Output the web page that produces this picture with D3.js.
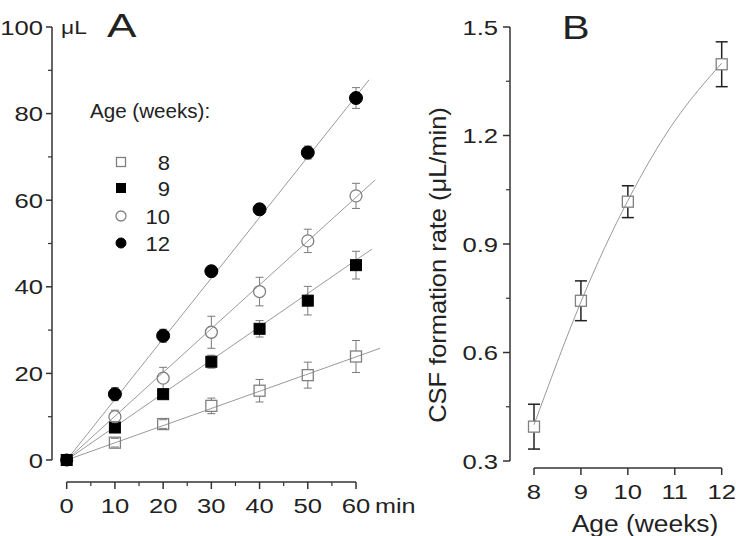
<!DOCTYPE html>
<html><head><meta charset="utf-8">
<script src="https://cdn.jsdelivr.net/npm/d3@7"></script>
<style>body{margin:0;background:#fff} text{font-family:"Liberation Sans",Arial,sans-serif;fill:#222}</style>
</head><body><svg id="c" width="736" height="536"></svg>
<script>
// ---- Panel A data ----
const times = [0,10,20,30,40,50,60];
const ages = ["8","9","10","12"];
const vol8  = [0,4.0,8.3,12.5,16.0,19.6,23.9];
const err8  = [0.5,1.0,1.0,1.8,2.6,3.0,3.7];
const vol9  = [0,7.5,15.2,22.7,30.3,36.8,45.0];
const err9  = [0.5,1.0,1.0,1.5,1.9,3.3,3.2];
const vol10 = [0,10.0,18.9,29.5,38.9,50.6,61.0];
const err10 = [0.5,1.5,2.5,3.7,3.3,2.7,2.9];
const vol12 = [0,15.2,28.7,43.6,57.9,71.0,83.6];
const err12 = [0.5,1.5,1.5,1.0,1.0,1.5,2.4];
const fitEndTime = [65,63.3,64,62.7];
const fitEndVol  = [25.8,48.7,64.7,87.8];
const yTicksA = [0,20,40,60,80,100];
const yMinorA = [10,30,50,70,90];
const xTicksA = [0,10,20,30,40,50,60];
const xMinorA = [5,15,25,35,45,55];

// ---- Panel B data ----
const weeksB = [8,9,10,12];
const rateB  = [0.395,0.743,1.017,1.397];
const errB   = [0.062,0.055,0.044,0.062];
const curveWeeks = [8,9,10,11,12];
const curveRate  = [0.40,0.74,1.02,1.24,1.40];
const yTicksB = [0.3,0.6,0.9,1.2,1.5];
const yMinorB = [0.45,0.75,1.05,1.35];
const xTicksB = [8,9,10,11,12];

const svg = d3.select("#c");
const axisCol = "#333", lineCol = "#9a9a9a", openCol = "#808080";

// text helper: wide-looking font via horizontal scaling
function txt(g, x, y, s, size, anchor, sx, rot){
  const t = g.append("text")
    .attr("transform", `translate(${x},${y})` + (rot?` rotate(${rot})`:"") + ` scale(${sx||1},1)`)
    .attr("font-size", size).attr("text-anchor", anchor||"start").text(s);
  return t;
}
const TSX = 1.22;

// ================= Panel A =================
const xA = d3.scaleLinear().domain([0,60]).range([66.7,356]);
const yA = d3.scaleLinear().domain([0,100]).range([460,27]);
const gA = svg.append("g");

// y axis
gA.append("line").attr("x1",52).attr("x2",52).attr("y1",yA(100)).attr("y2",yA(0)).attr("stroke",axisCol).attr("stroke-width",1.5);
gA.selectAll(".ytA").data(yTicksA).join("line").attr("x1",46).attr("x2",52).attr("y1",d=>yA(d)).attr("y2",d=>yA(d)).attr("stroke",axisCol).attr("stroke-width",1.5);
gA.selectAll(".ymA").data(yMinorA).join("line").attr("x1",48).attr("x2",52).attr("y1",d=>yA(d)).attr("y2",d=>yA(d)).attr("stroke",axisCol).attr("stroke-width",1.2);
yTicksA.forEach(d=>txt(gA,43,yA(d)+7.5,d,21,"end",TSX));
// x axis
const xAxisY = 482;
gA.append("line").attr("x1",xA(0)).attr("x2",xA(60)).attr("y1",xAxisY).attr("y2",xAxisY).attr("stroke",axisCol).attr("stroke-width",1.5);
gA.selectAll(".xtA").data(xTicksA).join("line").attr("x1",d=>xA(d)).attr("x2",d=>xA(d)).attr("y1",xAxisY).attr("y2",xAxisY+7).attr("stroke",axisCol).attr("stroke-width",1.5);
gA.selectAll(".xmA").data(xMinorA).join("line").attr("x1",d=>xA(d)).attr("x2",d=>xA(d)).attr("y1",xAxisY).attr("y2",xAxisY+4).attr("stroke",axisCol).attr("stroke-width",1.2);
xTicksA.forEach(d=>txt(gA,xA(d),513,d,21,"middle",TSX));
txt(gA,375,513,"min",21,"start",1.2);
txt(gA,61,34,"μL",19,"start",1.2);
txt(gA,107,37,"A",34,"start",1.3);

// series
const seriesA = [
  {age:ages[0], v:vol8,  e:err8,  shape:"square", fill:false},
  {age:ages[1], v:vol9,  e:err9,  shape:"square", fill:true},
  {age:ages[2], v:vol10, e:err10, shape:"circle", fill:false},
  {age:ages[3], v:vol12, e:err12, shape:"circle", fill:true}
];
// fit lines
seriesA.forEach((s,i)=>{
  gA.append("line").attr("x1",xA(0)).attr("y1",yA(0)).attr("x2",xA(fitEndTime[i])).attr("y2",yA(fitEndVol[i]))
    .attr("stroke",lineCol).attr("stroke-width",1);
});
function marker(g,shape,fill,cx,cy,size){
  const col = fill ? "#000" : openCol;
  if(shape==="square"){
    g.append("rect").attr("x",cx-size/2).attr("y",cy-size/2).attr("width",size).attr("height",size)
      .attr("fill",fill?"#000":"none").attr("stroke",col).attr("stroke-width",fill?1:1.3);
  } else {
    g.append("circle").attr("cx",cx).attr("cy",cy).attr("r",size/2)
      .attr("fill",fill?"#000":"none").attr("stroke",col).attr("stroke-width",fill?1:1.3);
  }
}
function errBar(g,cx,cy,top,bot,half,cap,col,w){
  if(top < cy-half) g.append("line").attr("x1",cx).attr("x2",cx).attr("y1",top).attr("y2",cy-half).attr("stroke",col).attr("stroke-width",w);
  if(bot > cy+half) g.append("line").attr("x1",cx).attr("x2",cx).attr("y1",cy+half).attr("y2",bot).attr("stroke",col).attr("stroke-width",w);
  [top,bot].forEach(yy=>g.append("line").attr("x1",cx-cap/2).attr("x2",cx+cap/2).attr("y1",yy).attr("y2",yy).attr("stroke",col).attr("stroke-width",w));
}
seriesA.forEach(s=>{
  const size = s.shape==="square" ? 11 : (s.fill?13:12);
  times.forEach((t,j)=>{
    if(j===0) return;
    errBar(gA,xA(t),yA(s.v[j]),yA(s.v[j]+s.e[j]),yA(s.v[j]-s.e[j]),size/2,8,"#7a7a7a",1);
  });
});
seriesA.forEach(s=>{
  const size = s.shape==="square" ? 11 : (s.fill?13:12);
  times.forEach((t,j)=>{
    if(j===0) return;
    marker(gA,s.shape,s.fill,xA(t),yA(s.v[j]),size);
  });
});
// origin point (all series overlap)
marker(gA,"square",true,xA(0),yA(0),11);
marker(gA,"circle",true,xA(0),yA(0),12);

// legend
txt(gA,90,118,"Age (weeks):",20,"start",1.03);
const legY = [162,188,216,243];
seriesA.forEach((s,i)=>{
  marker(gA,s.shape,s.fill,121,legY[i],s.shape==="square"?9:10);
  txt(gA,170,legY[i]+7.5,s.age,21,"end",1.05);
});

// ================= Panel B =================
const xB = d3.scaleLinear().domain([8,12]).range([534,721.7]);
const yB = d3.scaleLinear().domain([0.3,1.5]).range([461,27]);
const gB = svg.append("g");
gB.append("line").attr("x1",510).attr("x2",510).attr("y1",yB(1.5)).attr("y2",yB(0.3)).attr("stroke",axisCol).attr("stroke-width",1.5);
gB.selectAll(".ytB").data(yTicksB).join("line").attr("x1",503).attr("x2",510).attr("y1",d=>yB(d)).attr("y2",d=>yB(d)).attr("stroke",axisCol).attr("stroke-width",1.5);
gB.selectAll(".ymB").data(yMinorB).join("line").attr("x1",506).attr("x2",510).attr("y1",d=>yB(d)).attr("y2",d=>yB(d)).attr("stroke",axisCol).attr("stroke-width",1.2);
yTicksB.forEach(d=>txt(gB,498,yB(d)+7.5,d.toFixed(1),21,"end",TSX));
const xAxisYB = 468;
gB.append("line").attr("x1",xB(8)).attr("x2",xB(12)).attr("y1",xAxisYB).attr("y2",xAxisYB).attr("stroke",axisCol).attr("stroke-width",1.5);
gB.selectAll(".xtB").data(xTicksB).join("line").attr("x1",d=>xB(d)).attr("x2",d=>xB(d)).attr("y1",xAxisYB).attr("y2",xAxisYB+7).attr("stroke",axisCol).attr("stroke-width",1.5);
xTicksB.forEach(d=>txt(gB,xB(d),499,d,21,"middle",TSX));
txt(gB,645,532,"Age (weeks)",24,"middle",1.1);
txt(gB,446,265,"CSF formation rate (μL/min)",24,"middle",1.06,-90);
txt(gB,562,39,"B",34,"start",1.22);

const curveLine = d3.line().x(d=>xB(d[0])).y(d=>yB(d[1])).curve(d3.curveNatural);
gB.append("path").attr("d",curveLine(curveWeeks.map((w,i)=>[w,curveRate[i]]))).attr("fill","none").attr("stroke",lineCol).attr("stroke-width",1);
weeksB.forEach((w,i)=>{
  errBar(gB,xB(w),yB(rateB[i]),yB(rateB[i]+errB[i]),yB(rateB[i]-errB[i]),5.5,12,"#222",1.5);
  marker(gB,"square",false,xB(w),yB(rateB[i]),11);
});
</script></body></html>
